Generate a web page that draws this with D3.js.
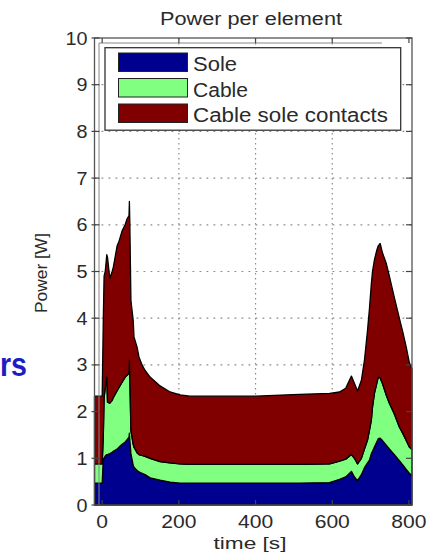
<!DOCTYPE html>
<html>
<head>
<meta charset="utf-8">
<script src="https://cdn.jsdelivr.net/npm/d3@7"></script>
<style>
  html, body { margin: 0; padding: 0; background: #fff; }
  svg { display: block; }
  text { font-family: "Liberation Sans", Arial, Helvetica, sans-serif; fill: #2a2a2a; }
</style>
</head>
<body>
<svg id="chart" width="443" height="555"></svg>
<script>
// Time stamps [s]
const time = [-20, 0, 3, 5, 8, 12, 14, 20, 26, 29, 39, 44, 52, 60, 65, 70, 71, 72, 75, 81,
  83, 91, 96, 104, 112, 125, 151, 177, 203, 229, 400, 515, 593, 619, 635, 650, 658, 666, 676, 684,
  692, 697, 702, 705, 710, 716, 720, 725, 731, 741, 749, 762, 775, 783, 793, 801, 808];

// Power of each element [W]
const sole = [.47, .47, 1.0, 1.0, 1.05, 1.08, 1.08, 1.1, 1.13, 1.15, 1.2, 1.24, 1.3, 1.35, 1.4, 1.45, 1.54, 1.4, 1.1, .85,
  .81, .74, .71, .68, .65, .58, .53, .49, .47, .47, .47, .47, .48, .55, .6, .72, .6, .52, .65, .8,
  .9, .96, 1.1, 1.15, 1.24, 1.35, 1.42, 1.43, 1.38, 1.28, 1.2, 1.08, .95, .87, .76, .68, .63];
const cable = [.41, .41, .5, 1.3, 1.45, 1.66, 1.12, 1.08, 1.11, 1.15, 1.25, 1.28, 1.33, 1.39, 1.38, 1.37, 1.56, 1.4, .5, .45,
  .43, .38, .37, .38, .39, .42, .40, .41, .41, .40, .40, .40, .40, .39, .38, .36, .40, .36, .35, .40,
  .49, .64, .72, .95, 1.15, 1.25, 1.32, 1.29, 1.22, 1.07, .98, .87, .72, .68, .62, .56, .56];
const contacts = [1.45, 1.45, 2.5, 2.6, 2.5, 2.62, 3.1, 2.67, 2.76, 2.79, 3.1, 3.13, 3.24, 3.26, 3.35, 3.38, 3.4, 3.3, 2.78, 2.65,
  2.36, 2.26, 2.09, 1.94, 1.84, 1.74, 1.62, 1.52, 1.48, 1.46, 1.46, 1.50, 1.51, 1.48, 1.52, 1.68, 1.6, 1.56, 1.67, 1.9,
  2.35, 2.6, 2.92, 2.9, 2.86, 2.85, 2.81, 2.88, 2.8, 2.82, 2.72, 2.49, 2.33, 2.19, 2.0, 1.81, 1.72];

const seriesNames = ["Sole", "Cable", "Cable sole contacts"];
const seriesColors = ["#00008f", "#80ff80", "#800000"];
const xTicks = [0, 200, 400, 600, 800];
const yTicks = [0, 1, 2, 3, 4, 5, 6, 7, 8, 9, 10];

const svg = d3.select("#chart");
svg.append("rect").attr("width", 443).attr("height", 555).attr("fill", "#fff");

const L = 94.5, R = 412, T = 38, B = 505;
const x = d3.scaleLinear().domain([-20, 808]).range([L, R]);
const y = d3.scaleLinear().domain([0, 10]).range([B, T]);

// Stacked table
const rows = time.map((t, i) => ({ t, "Sole": sole[i], "Cable": cable[i], "Cable sole contacts": contacts[i] }));
const stacked = d3.stack().keys(seriesNames)(rows);

// Dotted grid
const grid = svg.append("g").attr("stroke", "#8a8a8a").attr("stroke-width", 1.2);
yTicks.filter(v => v > 0 && v < 10).forEach(v => {
  grid.append("line").attr("x1", L).attr("x2", R).attr("y1", y(v)).attr("y2", y(v))
    .attr("stroke-dasharray", "1.8,5.2");
});
xTicks.filter(v => v > 0 && v < 800).forEach(v => {
  grid.append("line").attr("y1", T).attr("y2", B).attr("x1", x(v)).attr("x2", x(v))
    .attr("stroke-dasharray", "1.5,3.5");
});

// Stacked areas
const area = d3.area().x(d => x(d.data.t)).y0(d => y(d[0])).y1(d => y(d[1]));
svg.append("g").selectAll("path").data(stacked).join("path")
  .attr("d", area)
  .attr("fill", (d, i) => seriesColors[i])
  .attr("stroke", "#000").attr("stroke-width", 1.3).attr("stroke-linejoin", "round");

// Axes frame
const frame = svg.append("g").attr("fill", "none");
frame.append("rect").attr("x", L).attr("y", T).attr("width", R - L).attr("height", B - T)
  .attr("stroke", "#555").attr("stroke-width", 1.3);
frame.append("path").attr("d", `M${L + 4.5},${B} V${T + 5} H${R - 30}`)
  .attr("stroke", "#888").attr("stroke-width", 1);

// Tick marks on all four sides
const ticks = svg.append("g").attr("stroke", "#444").attr("stroke-width", 1.2);
yTicks.forEach(v => {
  ticks.append("line").attr("x1", L - 3).attr("x2", L + 5).attr("y1", y(v)).attr("y2", y(v));
  ticks.append("line").attr("x1", R - 6).attr("x2", R).attr("y1", y(v)).attr("y2", y(v));
});
xTicks.forEach(v => {
  ticks.append("line").attr("x1", x(v)).attr("x2", x(v)).attr("y1", T).attr("y2", T + 5);
  ticks.append("line").attr("x1", x(v)).attr("x2", x(v)).attr("y1", B).attr("y2", B - 5);
});

// Tick labels
svg.append("g").selectAll("text").data(yTicks).join("text")
  .attr("x", 87.5).attr("y", d => y(d) + 6.5)
  .attr("text-anchor", "end").attr("font-size", 18.5)
  .attr("textLength", d => String(d).length * 11)
  .attr("lengthAdjust", "spacingAndGlyphs")
  .text(d => d);
svg.append("g").selectAll("text").data(xTicks).join("text")
  .attr("x", d => x(d)).attr("y", 528)
  .attr("text-anchor", "middle").attr("font-size", 19)
  .attr("textLength", d => String(d).length * 11.7)
  .attr("lengthAdjust", "spacingAndGlyphs")
  .text(d => d);

// Titles
svg.append("text").attr("x", 251).attr("y", 24.5).attr("text-anchor", "middle")
  .attr("font-size", 17.5).attr("textLength", 182).attr("lengthAdjust", "spacingAndGlyphs")
  .text("Power per element");
svg.append("text").attr("x", 250).attr("y", 549).attr("text-anchor", "middle")
  .attr("font-size", 17).attr("textLength", 73).attr("lengthAdjust", "spacingAndGlyphs")
  .text("time [s]");
svg.append("text").attr("transform", "translate(47,273) rotate(-90)").attr("text-anchor", "middle")
  .attr("font-size", 17).attr("textLength", 80).attr("lengthAdjust", "spacingAndGlyphs")
  .text("Power [W]");

// Legend
const leg = svg.append("g");
leg.append("rect").attr("x", 105).attr("y", 47.7).attr("width", 295.7).attr("height", 82.5)
  .attr("fill", "#fff").attr("stroke", "#333").attr("stroke-width", 1.3);
const legWidths = [44, 55, 195];
seriesNames.forEach((name, i) => {
  const top = 53 + i * 25.5;
  leg.append("rect").attr("x", 118.5).attr("y", top).attr("width", 69).attr("height", 18.5)
    .attr("fill", seriesColors[i]).attr("stroke", "#222").attr("stroke-width", 1);
  leg.append("text").attr("x", 193).attr("y", top + 18)
    .attr("font-size", 19.5).attr("textLength", legWidths[i]).attr("lengthAdjust", "spacingAndGlyphs")
    .text(name);
});

// Fragment of the surrounding slide heading
svg.append("text").attr("x", 27).attr("y", 376).attr("text-anchor", "end")
  .attr("font-family", "Lato, 'Open Sans', sans-serif").attr("font-weight", 900)
  .attr("font-size", 33).attr("textLength", 27).attr("lengthAdjust", "spacingAndGlyphs")
  .style("fill", "#1d1dc4")
  .text("rs");
</script>
</body>
</html>
